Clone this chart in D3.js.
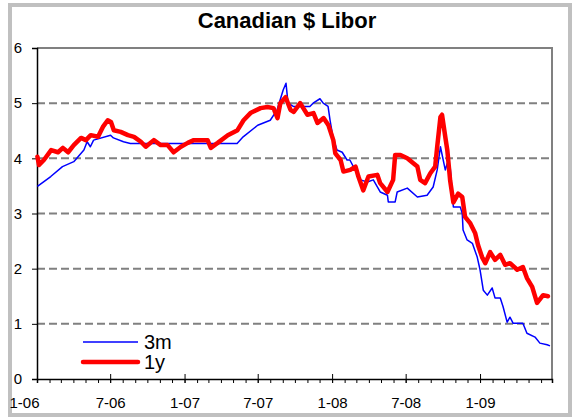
<!DOCTYPE html>
<html>
<head>
<meta charset="utf-8">
<script src="https://cdn.jsdelivr.net/npm/d3@7"></script>
<style>
  body { margin: 0; background: #fff; }
  text { font-family: Arial, "Liberation Sans", sans-serif; fill: #000; }
</style>
</head>
<body>
<div id="chart"></div>
<script>
// 3-month Canadian $ Libor
const threeMDates = [
  '2006-01-02', '2006-02-04', '2006-03-05', '2006-04-02', '2006-04-27', '2006-05-05',
  '2006-05-13', '2006-05-21', '2006-07-02', '2006-07-09', '2006-08-03', '2006-08-20',
  '2007-05-11', '2007-05-26', '2007-07-01', '2007-08-01', '2007-08-18', '2007-09-02',
  '2007-09-09', '2007-09-14', '2007-09-27', '2007-10-14', '2007-11-07', '2007-11-15',
  '2007-12-02', '2007-12-10', '2007-12-22', '2007-12-27', '2008-01-03', '2008-01-13',
  '2008-01-26', '2008-02-07', '2008-02-14', '2008-03-11', '2008-03-28', '2008-04-12',
  '2008-04-29', '2008-05-17', '2008-05-19', '2008-06-05', '2008-06-10', '2008-07-05',
  '2008-07-30', '2008-08-23', '2008-09-07', '2008-09-17', '2008-09-25', '2008-10-07',
  '2008-10-12', '2008-10-19', '2008-10-27', '2008-11-13', '2008-11-18', '2008-11-20',
  '2008-11-30', '2008-12-13', '2008-12-25', '2009-01-01', '2009-01-09', '2009-01-19',
  '2009-01-31', '2009-02-07', '2009-02-20', '2009-02-27', '2009-03-09', '2009-03-16',
  '2009-03-24', '2009-04-17', '2009-04-27', '2009-05-17', '2009-05-29', '2009-06-16',
  '2009-06-23'
];
const threeMValues = [
  3.49, 3.67, 3.85, 3.94, 4.15, 4.30,
  4.21, 4.33, 4.42, 4.37, 4.30, 4.27,
  4.27, 4.39, 4.60, 4.69, 4.88, 5.24,
  5.36, 5.00, 4.94, 4.94, 4.94, 5.00,
  5.08, 5.00, 4.94, 4.69, 4.39, 4.15,
  4.11, 3.97, 3.97, 3.61, 3.57, 3.61,
  3.39, 3.33, 3.21, 3.21, 3.39, 3.46,
  3.30, 3.33, 3.48, 3.79, 4.21, 3.79,
  3.91, 3.85, 3.12, 3.12, 3.00, 2.70,
  2.52, 2.46, 2.21, 1.98, 1.61, 1.52,
  1.65, 1.47, 1.47, 1.31, 1.03, 1.12,
  1.01, 1.01, 0.83, 0.76, 0.65, 0.62,
  0.60
];

// 1-year Canadian $ Libor
const oneYDates = [
  '2006-01-02', '2006-01-06', '2006-01-18', '2006-02-05', '2006-02-22', '2006-03-06',
  '2006-03-19', '2006-04-02', '2006-04-20', '2006-05-02', '2006-05-14', '2006-06-01',
  '2006-06-13', '2006-06-25', '2006-07-03', '2006-07-10', '2006-07-27', '2006-08-14',
  '2006-08-29', '2006-09-15', '2006-09-27', '2006-10-17', '2006-11-03', '2006-11-20',
  '2006-12-05', '2006-12-23', '2007-01-09', '2007-01-24', '2007-02-27', '2007-03-07',
  '2007-03-24', '2007-04-18', '2007-05-12', '2007-05-27', '2007-06-13', '2007-07-08',
  '2007-07-25', '2007-08-09', '2007-08-19', '2007-08-26', '2007-09-08', '2007-09-20',
  '2007-09-28', '2007-10-14', '2007-11-01', '2007-11-16', '2007-11-26', '2007-12-11',
  '2007-12-23', '2008-01-04', '2008-01-09', '2008-01-22', '2008-01-29', '2008-02-15',
  '2008-02-28', '2008-03-06', '2008-03-18', '2008-03-31', '2008-04-22', '2008-04-29',
  '2008-05-17', '2008-05-31', '2008-06-05', '2008-06-18', '2008-07-05', '2008-07-20',
  '2008-07-30', '2008-08-06', '2008-08-18', '2008-08-31', '2008-09-12', '2008-09-17',
  '2008-09-25', '2008-09-29', '2008-10-07', '2008-10-12', '2008-10-19', '2008-10-27',
  '2008-11-08', '2008-11-18', '2008-11-25', '2008-12-08', '2008-12-20', '2008-12-27',
  '2009-01-06', '2009-01-14', '2009-01-26', '2009-02-07', '2009-02-20', '2009-03-04',
  '2009-03-16', '2009-04-03', '2009-04-17', '2009-04-27', '2009-05-10', '2009-05-22',
  '2009-06-06', '2009-06-18'
];
const oneYValues = [
  4.03, 3.88, 3.97, 4.15, 4.11, 4.19,
  4.11, 4.24, 4.37, 4.33, 4.42, 4.39,
  4.57, 4.69, 4.66, 4.51, 4.48, 4.42,
  4.39, 4.30, 4.21, 4.33, 4.24, 4.24,
  4.11, 4.21, 4.28, 4.33, 4.33, 4.19,
  4.28, 4.42, 4.51, 4.69, 4.82, 4.91,
  4.93, 4.91, 4.73, 5.00, 5.11, 4.88,
  4.84, 5.00, 4.79, 4.82, 4.64, 4.73,
  4.60, 4.33, 4.09, 3.97, 3.76, 3.79,
  3.85, 3.67, 3.42, 3.67, 3.70, 3.55,
  3.39, 3.61, 4.06, 4.06, 4.00, 3.91,
  3.85, 3.61, 3.55, 3.73, 3.85, 4.21,
  4.75, 4.79, 4.39, 4.15, 3.60, 3.20,
  3.36, 3.30, 2.94, 2.82, 2.64, 2.43,
  2.21, 2.10, 2.30, 2.16, 2.25, 2.07,
  2.10, 1.98, 2.03, 1.83, 1.67, 1.38,
  1.52, 1.50
];

const title = 'Canadian $ Libor';
const seriesNames = ['3m', '1y'];
const yTicks = [0, 1, 2, 3, 4, 5, 6];
const xDomain = ['2006-01-01', '2009-06-28'];

const W = 574, H = 417;
const plot = { left: 37, right: 552, top: 48, bottom: 379 };

const parse = d3.timeParse('%Y-%m-%d');
const threeM = threeMDates.map((d, i) => ({ date: parse(d), value: threeMValues[i] }));
const oneY = oneYDates.map((d, i) => ({ date: parse(d), value: oneYValues[i] }));

const svg = d3.select('#chart')
  .append('svg')
    .attr('width', W)
    .attr('height', H);

svg.append('rect')
  .attr('width', W)
  .attr('height', H)
  .attr('fill', '#fff');

// outer frame
svg.append('rect')
  .attr('x', 10)
  .attr('y', 5)
  .attr('width', 560)
  .attr('height', 410)
  .attr('fill', '#fff')
  .attr('stroke', '#c0c0c0')
  .attr('stroke-width', 4);

svg.append('text')
  .attr('x', 287)
  .attr('y', 28)
  .attr('text-anchor', 'middle')
  .style('font-size', '22px')
  .style('font-weight', 'bold')
  .text(title);

const x = d3.scaleTime()
  .domain(xDomain.map(parse))
  .range([plot.left, plot.right]);

const y = d3.scaleLinear()
  .domain([0, 6])
  .range([plot.bottom, plot.top]);

// dashed gridlines
svg.append('g')
  .selectAll('line')
  .data(yTicks.filter(t => t > 0 && t < 6))
  .enter()
    .append('line')
      .attr('x1', plot.left)
      .attr('x2', plot.right)
      .attr('y1', d => y(d))
      .attr('y2', d => y(d))
      .attr('stroke', '#808080')
      .attr('stroke-width', 2)
      .attr('stroke-dasharray', '8,4');

// plot border (top and right)
svg.append('path')
  .attr('d', `M${plot.left},${plot.top}H${plot.right}V${plot.bottom}`)
  .attr('fill', 'none')
  .attr('stroke', '#808080')
  .attr('stroke-width', 2);

// y axis
const yAxis = svg.append('g')
  .attr('transform', `translate(${plot.left},0)`)
  .call(d3.axisLeft(y).tickValues(yTicks).tickSize(5).tickPadding(10).tickFormat(d3.format('d')));
yAxis.select('.domain').attr('stroke', '#000').attr('stroke-width', 1.5);
yAxis.selectAll('.tick line').attr('stroke', '#000');
yAxis.selectAll('text').style('font-size', '15px').attr('fill', '#000');

// x axis: monthly minor ticks
const months = d3.timeMonth.range(x.domain()[0], x.domain()[1]);
const xMinor = svg.append('g')
  .attr('transform', `translate(0,${plot.bottom})`)
  .call(d3.axisBottom(x).tickValues(months).tickSize(4).tickFormat(''));
xMinor.select('.domain').attr('stroke', '#000').attr('stroke-width', 1.5);
xMinor.selectAll('.tick line').attr('stroke', '#000');

// major ticks every 6 months
const majors = months.filter(d => d.getMonth() % 6 === 0);
const xMajor = svg.append('g')
  .attr('transform', `translate(0,${plot.bottom})`)
  .call(d3.axisBottom(x).tickValues(majors).tickSize(4)
    .tickFormat(d => `${d.getMonth() + 1}-${d3.timeFormat('%y')(d)}`));
xMajor.select('.domain').remove();
xMajor.selectAll('.tick line').attr('y1', -5).attr('stroke', '#000');
xMajor.selectAll('text')
  .attr('y', 29)
  .attr('dy', 0)
  .attr('dx', (d, i) => i === 0 ? -13 : 0)
  .style('font-size', '15px')
  .attr('fill', '#000');

const line = d3.line()
  .x(d => x(d.date))
  .y(d => y(d.value));

svg.append('path')
  .datum(threeM)
  .attr('d', line)
  .attr('fill', 'none')
  .attr('stroke', '#0000ff')
  .attr('stroke-width', 1.5)
  .attr('stroke-linejoin', 'round');

svg.append('path')
  .datum(oneY)
  .attr('d', line)
  .attr('fill', 'none')
  .attr('stroke', '#ff0000')
  .attr('stroke-width', 4.5)
  .attr('stroke-linejoin', 'round')
  .attr('stroke-linecap', 'round');

// legend
const legendItems = svg.append('g')
  .selectAll('g')
  .data(seriesNames)
  .enter()
    .append('g')
      .attr('transform', (d, i) => `translate(83,${342 + i * 20})`);

legendItems.append('line')
  .attr('x1', 0)
  .attr('x2', 55)
  .attr('stroke', (d, i) => i === 0 ? '#0000ff' : '#ff0000')
  .attr('stroke-width', (d, i) => i === 0 ? 1.5 : 4.5)
  .attr('stroke-linecap', (d, i) => i === 0 ? 'butt' : 'round');

legendItems.append('text')
  .attr('x', 61)
  .attr('y', 7)
  .style('font-size', '20px')
  .text(d => d);
</script>
</body>
</html>
